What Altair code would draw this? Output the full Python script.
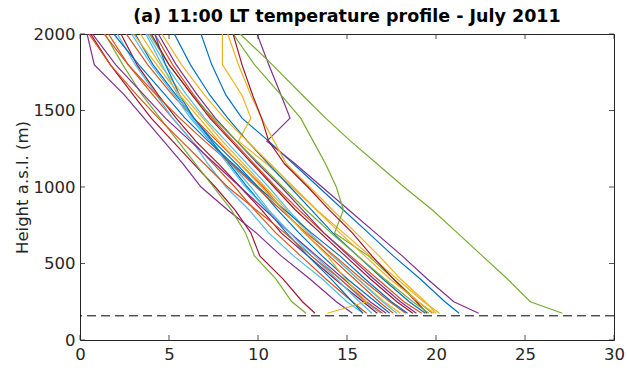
import altair as alt
import pandas as pd

# Heights of the profile levels (m a.s.l.)
heights = [175, 250, 400, 550, 700, 850, 1000, 1150, 1300, 1450, 1600, 1800, 2000]

# Temperature (deg C) at each height, one list per day of July 2011
jul01 = [21.3, 20.5, 19.1, 17.6, 16.2, 14.8, 13.4, 12.0, 10.6, 9.1, 8.2, 7.4, 6.8]
jul02 = [16.1, 15.3, 13.8, 12.4, 11.0, 9.8, 8.7, 7.5, 6.3, 5.2, 4.1, 2.7, 1.6]
jul03 = [20.2, 19.3, 17.8, 16.3, 14.8, 13.3, 11.9, 10.5, 8.9, 9.6, 9.1, 8.0, 8.0]
jul04 = [22.4, 21.0, 19.5, 18.1, 16.6, 15.1, 13.6, 12.1, 10.5, 11.8, 11.3, 10.6, 9.95]
jul05 = [27.1, 25.3, 24.0, 22.6, 21.2, 19.8, 18.2, 16.7, 15.2, 13.8, 12.5, 10.8, 9.0]
jul06 = [15.9, 15.0, 13.6, 12.0, 10.6, 9.5, 8.2, 7.2, 6.3, 5.2, 4.3, 3.1, 2.1]
jul07 = [13.2, 12.5, 11.4, 10.1, 9.6, 8.7, 7.6, 6.4, 5.2, 4.0, 3.0, 1.7, 0.6]
jul08 = [17.4, 16.6, 15.0, 13.6, 12.3, 11.1, 10.0, 8.8, 7.5, 6.4, 5.4, 4.1, 3.1]
jul09 = [17.6, 16.8, 15.4, 14.0, 12.6, 11.4, 10.3, 9.0, 7.7, 6.4, 5.2, 3.8, 2.6]
jul10 = [20.0, 19.4, 18.0, 16.8, 15.5, 14.2, 12.9, 11.6, 10.9, 10.2, 9.6, 8.9, 8.3]
jul11 = [15.3, 14.4, 12.9, 11.3, 9.9, 8.3, 6.8, 5.8, 4.7, 3.6, 2.5, 0.8, 0.4]
jul12 = [19.8, 19.0, 17.6, 16.2, 14.3, 14.8, 14.4, 13.8, 13.1, 12.4, 11.3, 9.8, 8.6]
jul13 = [16.9, 16.0, 14.6, 13.2, 11.8, 10.6, 9.6, 8.5, 7.3, 6.2, 5.3, 4.0, 2.9]
jul14 = [19.5, 18.9, 17.6, 16.4, 15.3, 14.0, 12.8, 11.5, 10.6, 10.2, 9.7, 9.1, 8.6]
jul15 = [19.4, 18.5, 17.0, 15.6, 14.2, 13.0, 11.8, 10.6, 9.4, 8.3, 7.3, 6.2, 5.3]
jul16 = [19.2, 18.2, 16.7, 15.2, 13.7, 12.3, 11.0, 9.8, 8.6, 7.4, 6.4, 5.2, 4.2]
jul17 = [18.0, 17.1, 15.6, 14.2, 12.8, 11.6, 10.4, 9.2, 8.0, 6.9, 5.8, 4.5, 3.4]
jul18 = [18.9, 18.0, 16.5, 15.1, 13.7, 12.5, 11.3, 10.0, 8.8, 7.6, 6.6, 5.4, 4.4]
jul19 = [12.7, 11.9, 11.0, 9.8, 9.3, 8.5, 7.5, 6.5, 5.5, 4.5, 3.5, 2.4, 1.4]
jul20 = [17.8, 17.0, 15.6, 14.2, 12.9, 11.7, 10.6, 9.4, 8.2, 7.0, 6.0, 4.8, 3.8]
jul21 = [16.7, 15.9, 14.3, 12.8, 11.3, 10.2, 9.0, 7.8, 6.5, 5.4, 4.4, 3.2, 2.3]
jul22 = [15.9, 15.3, 14.1, 12.8, 11.6, 10.5, 9.4, 8.4, 7.4, 6.4, 5.6, 4.8, 4.2]
jul23 = [18.3, 17.4, 15.8, 14.3, 12.7, 11.3, 9.9, 8.5, 7.0, 5.6, 4.3, 2.7, 1.35]
jul24 = [19.9, 19.0, 17.4, 16.0, 14.6, 13.3, 12.0, 10.7, 9.4, 8.1, 7.0, 5.7, 4.6]
jul25 = [17.2, 16.3, 14.8, 13.3, 11.8, 10.4, 9.0, 7.6, 6.2, 4.8, 3.6, 2.0, 0.7]
jul26 = [19.6, 18.7, 17.1, 15.6, 14.1, 12.7, 11.4, 10.1, 8.8, 7.5, 6.3, 5.0, 3.9]
jul27 = [16.4, 15.7, 14.4, 13.0, 11.8, 10.5, 9.3, 8.3, 7.3, 6.3, 5.5, 4.6, 3.7]
jul28 = [18.7, 17.8, 16.3, 14.9, 13.5, 12.1, 10.9, 9.7, 8.5, 7.3, 6.3, 5.0, 4.0]
jul29 = [18.4, 17.5, 16.0, 14.6, 13.0, 11.5, 10.0, 8.6, 7.2, 5.9, 4.8, 3.3, 1.9]
jul30 = [17.0, 16.1, 14.6, 13.0, 11.5, 9.9, 8.3, 7.0, 5.7, 4.4, 3.2, 1.7, 0.5]
jul31 = [13.9, 16.1, 14.9, 13.9, 12.6, 11.4, 10.2, 9.0, 7.8, 6.7, 5.6, 4.3, 3.0]

profiles = [jul01, jul02, jul03, jul04, jul05, jul06, jul07, jul08, jul09, jul10,
            jul11, jul12, jul13, jul14, jul15, jul16, jul17, jul18, jul19, jul20,
            jul21, jul22, jul23, jul24, jul25, jul26, jul27, jul28, jul29, jul30, jul31]
day_names = ["2011-07-%02d" % (i + 1) for i in range(len(profiles))]

station_height = [158]
x_ticks = [0, 5, 10, 15, 20, 25, 30]
y_ticks = [0, 500, 1000, 1500, 2000]

matlab_colors = ["#0072BD", "#D95319", "#EDB120", "#7E2F8E", "#77AC30", "#4DBEEE", "#A2142F"]
line_colors = [matlab_colors[i % 7] for i in range(len(day_names))]

rows = []
for name, temps in zip(day_names, profiles):
    for z, t in zip(heights, temps):
        rows.append({"day": name, "T": t, "z": z})
df = pd.DataFrame(rows)

W, H = 534, 306
FONT = "DejaVu Sans"
AX = "#262626"
xs = alt.Scale(domain=[0, 30], nice=False, zero=False)
ys = alt.Scale(domain=[0, 2000], nice=False, zero=False)

lines = alt.Chart(df).mark_line(strokeWidth=1.2, clip=True).encode(
    x=alt.X("T:Q", scale=xs, axis=alt.Axis(values=x_ticks, title=None, labelPadding=6,
                                           labelFlush=False, format="d")),
    y=alt.Y("z:Q", scale=ys, axis=alt.Axis(values=y_ticks, title="Height a.s.l. (m)",
                                           labelPadding=5, titleX=-53, titleY=153,
                                           titleAngle=-90, titleAlign="center",
                                           titleBaseline="alphabetic", format="d",
                                           labelFlush=False)),
    color=alt.Color("day:N", scale=alt.Scale(domain=day_names, range=line_colors), legend=None),
    detail="day:N",
    order=alt.Order("z:Q"),
)

dash = alt.Chart(pd.DataFrame({"z": station_height})).mark_rule(
    color="black", strokeWidth=1, strokeDash=[9, 5]
).encode(y=alt.Y("z:Q", scale=ys))

xt = pd.DataFrame({"T": x_ticks})
yt = pd.DataFrame({"z": y_ticks})
tick_style = dict(color=AX, strokeWidth=0.8)
bottom_ticks = alt.Chart(xt).mark_rule(**tick_style).encode(
    x=alt.X("T:Q", scale=xs), y=alt.value(H), y2=alt.value(H - 5))
top_ticks = alt.Chart(xt).mark_rule(**tick_style).encode(
    x=alt.X("T:Q", scale=xs), y=alt.value(0), y2=alt.value(5))
left_ticks = alt.Chart(yt).mark_rule(**tick_style).encode(
    y=alt.Y("z:Q", scale=ys), x=alt.value(0), x2=alt.value(5))
right_ticks = alt.Chart(yt).mark_rule(**tick_style).encode(
    y=alt.Y("z:Q", scale=ys), x=alt.value(W), x2=alt.value(W - 5))

chart = alt.layer(lines, dash, bottom_ticks, top_ticks, left_ticks, right_ticks).properties(
    width=W, height=H,
    background="white",
    title=alt.TitleParams("(a) 11:00 LT temperature profile - July 2011", font=FONT,
                          fontSize=17.5, fontWeight="bold", color="black", anchor="middle",
                          frame="group", offset=12, baseline="alphabetic", dy=25),
    autosize=alt.AutoSizeParams(type="none"),
    padding={"left": 80, "top": 34, "right": 13, "bottom": 31},
).configure_view(stroke=AX, strokeWidth=1).configure_axis(
    domain=False, ticks=False, grid=False, labelFont=FONT, labelFontSize=16.5,
    labelColor=AX, titleFont=FONT, titleFontSize=16.5, titleFontWeight="normal",
    titleColor=AX,
)

chart.save("out.html", embed_options={"renderer": "svg", "actions": False})
